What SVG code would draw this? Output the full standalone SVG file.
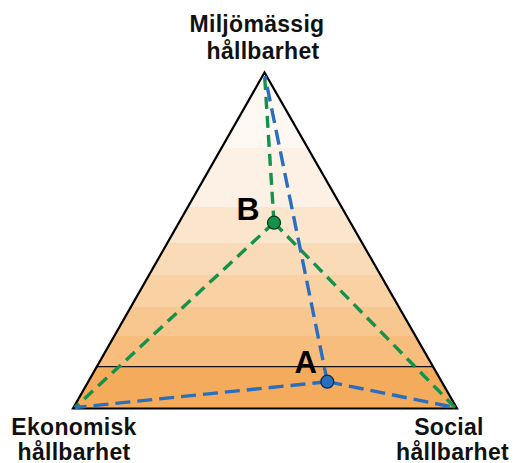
<svg xmlns="http://www.w3.org/2000/svg" width="516" height="463" viewBox="0 0 516 463">
<style>
.lbl{font-family:"Liberation Sans",Arial,sans-serif;font-weight:bold;font-size:23px;letter-spacing:0.3px;fill:#111;text-anchor:middle}
.pt{font-family:"Liberation Sans",Arial,sans-serif;font-weight:bold;fill:#000}
.g{fill:none;stroke:#12924a;stroke-width:3.4;stroke-dasharray:12 7}
.b{fill:none;stroke:#2a6ebf;stroke-width:3.4;stroke-dasharray:15 7}
</style>
<defs>
<clipPath id="tri"><polygon points="264.5,72.5 73,408.5 457,408.5"/></clipPath>
</defs>
<g id="triangle">
<g clip-path="url(#tri)">
<rect x="60" y="60" width="410" height="88" fill="#fdf8f1"/>
<rect x="60" y="148" width="410" height="59" fill="#fcf1e4"/>
<rect x="60" y="207" width="410" height="36" fill="#fbe5cd"/>
<rect x="60" y="243" width="410" height="32" fill="#fadbb8"/>
<rect x="60" y="275" width="410" height="32" fill="#f9d1a3"/>
<rect x="60" y="307" width="410" height="29" fill="#f8c790"/>
<rect x="60" y="336" width="410" height="31" fill="#f7bd7d"/>
<rect x="60" y="367" width="410" height="45" fill="#f5ab5c"/>
<line x1="60" y1="366.7" x2="470" y2="366.7" stroke="#111" stroke-width="1.3"/>
</g>
<polygon points="264.5,72.5 73,408.5 457,408.5" fill="none" stroke="#000" stroke-width="2.2" stroke-linejoin="miter"/>
</g>
<g id="connectors">
<path class="g" d="M274,222.7 L264.5,74"/>
<path class="g" d="M274,222.7 L75,407.5"/>
<path class="g" d="M274,222.7 L455,407.5"/>
<path class="b" d="M327.3,381.7 L265,76"/>
<path class="b" d="M327.3,381.7 L75,407.5"/>
<path class="b" d="M327.3,381.7 L455,407.5"/>
</g>
<g id="pointB">
<circle cx="274" cy="222.7" r="6.5" fill="#12924a" stroke="#0b3a1e" stroke-width="1.3"/>
<text class="pt" x="236.5" y="220" font-size="32">B</text>
</g>
<g id="pointA">
<circle cx="327.3" cy="381.7" r="6.5" fill="#2a6ebf" stroke="#0d2a55" stroke-width="1.3"/>
<text class="pt" x="294.5" y="373.3" font-size="31">A</text>
</g>
<g id="label-miljo">
<text class="lbl" x="257" y="31.5">Miljömässig</text>
<text class="lbl" x="263" y="58.5">hållbarhet</text>
</g>
<g id="label-ekonomisk">
<text class="lbl" x="74" y="435">Ekonomisk</text>
<text class="lbl" x="74" y="459.5">hållbarhet</text>
</g>
<g id="label-social">
<text class="lbl" x="449" y="435">Social</text>
<text class="lbl" x="452.5" y="459.5">hållbarhet</text>
</g>
</svg>
